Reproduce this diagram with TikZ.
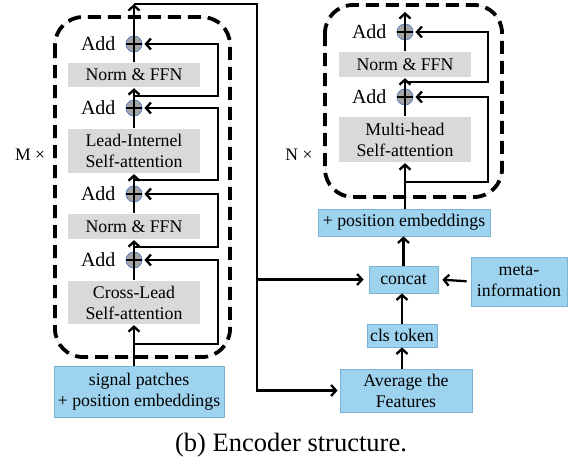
\documentclass[tikz,border=0pt]{standalone}
\usepackage{fontspec}
\setmainfont{Liberation Serif}
\usetikzlibrary{arrows.meta}
\definecolor{boxgray}{RGB}{217,217,217}
\definecolor{boxblue}{RGB}{157,211,238}
\definecolor{blueedge}{RGB}{125,178,212}
\definecolor{circfill}{RGB}{165,165,165}
\definecolor{circedge}{RGB}{90,130,195}
\begin{document}
\begin{tikzpicture}[x=1pt,y=-1pt,
  line width=2.3pt,
  >={Straight Barb[length=5pt,width=11pt]},
  graybox/.style={fill=boxgray, draw=none, minimum width=132pt, inner sep=0pt, align=center, font=\fontsize{17.8}{21}\selectfont},
  bluebox/.style={fill=boxblue, draw=blueedge, line width=0.8pt, inner sep=0pt, align=center, font=\fontsize{17.8}{21}\selectfont},
  addc/.style={circle, fill=circfill, draw=circedge, line width=0.8pt, minimum size=16pt, inner sep=0pt},
  addtxt/.style={anchor=east, inner sep=0pt, font=\fontsize{20}{24}\selectfont},
  dashbox/.style={draw, line width=3.8pt, dash pattern=on 13pt off 7pt, rounded corners=28pt},
  faintbox/.style={draw=gray!35, line width=0.5pt, rounded corners=28pt},
  multlbl/.style={inner sep=0pt, font=\fontsize{17.6}{20}\selectfont},
  skip/.style={->, shorten >=2pt},
  ]
\useasboundingbox (0,0) rectangle (574,458);

% dashed blocks
\draw[faintbox] (55,17) rectangle (230,357);
\draw[dashbox] (55,17) rectangle (230,357);
\draw[faintbox] (325,5) rectangle (502,197);
\draw[dashbox] (325,5) rectangle (502,197);

% left column
\node[graybox, minimum height=24pt] (nf1) at (134,75) {Norm \& FFN};
\node[graybox, minimum height=44pt] (lis) at (134,151) {Lead-Internel\\Self-attention};
\node[graybox, minimum height=25pt] (nf2) at (134,226.5) {Norm \& FFN};
\node[graybox, minimum height=43pt] (cl) at (134,302.5) {Cross-Lead\\Self-attention};
\node[bluebox, minimum width=170pt, minimum height=51pt] (sig) at (139,391.5) {signal patches\\+ position embeddings};

\node[addc] (add1) at (134,44) {};
\node[addc] (add2) at (134,108) {};
\node[addc] (add3) at (134,194) {};
\node[addc] (add4) at (134,260) {};
\foreach \a in {add1,add2,add3,add4}{
  \node[addtxt] at ([xshift=-9pt]\a.west) {Add};
}

\node[multlbl] (mlab) at (30,155) {M ×};

% right column
\node[graybox, minimum height=25pt] (rnf) at (405,64.5) {Norm \& FFN};
\node[graybox, minimum height=45pt] (rmh) at (405,139.5) {Multi-head\\Self-attention};
\node[bluebox, minimum width=172pt, minimum height=27pt] (pos) at (404,222.5) {+ position embeddings};
\node[bluebox, minimum width=69pt, minimum height=27pt] (concat) at (403.5,279.5) {concat};
\node[bluebox, minimum width=96pt, minimum height=49pt] (meta) at (519,281.5) {meta-\\information};
\node[bluebox, minimum width=70pt, minimum height=23pt] (clst) at (402,335.5) {cls token};
\node[bluebox, minimum width=132pt, minimum height=43pt] (avg) at (406,390.5) {Average the\\Features};

\node[addc] (radd1) at (405,32) {};
\node[addc] (radd2) at (405,97) {};
\foreach \a in {radd1,radd2}{
  \node[addtxt] at ([xshift=-9pt]\a.west) {Add};
}
\node[multlbl] (nlab) at (299,155) {N ×};

% coordinates
\coordinate (top) at (134,4);
\coordinate (corner) at (257,4);
\coordinate (b1) at (134,96);
\coordinate (b2) at (134,180);
\coordinate (b3) at (134,247);
\coordinate (b4) at (134,344);
\coordinate (rtop) at (405,12);
\coordinate (rb1) at (405,82);
\coordinate (rb2) at (405,182);

% left main path
\draw[->] (sig.north -| add4) -- (cl.south);
\draw (cl.north) -- (add4.south);
\draw[->] (add4.north) -- (nf2.south);
\draw (nf2.north) -- (add3.south);
\draw[->] (add3.north) -- (lis.south);
\draw (lis.north) -- (add2.south);
\draw[->] (add2.north) -- (nf1.south);
\draw (nf1.north) -- (add1.south);
\draw[->] (add1.north) -- (top);

% left residuals
\draw[skip] (b1) -- ++(84,0) |- (add1.east);
\draw[skip] (b2) -- ++(84,0) |- (add2.east);
\draw[skip] (b3) -- ++(84,0) |- (add3.east);
\draw[skip] (b4) -- ++(84,0) |- (add4.east);

% output of left encoder
\draw[->, shorten >=2pt] (top) -- (corner) |- (avg.west);
\draw[->, shorten >=5pt] (corner |- concat.west) -- (concat.west);

% right lower chain
\draw[->] (avg.north -| clst) -- (clst.south);
\draw[->] (clst.north) -- (concat.south -| clst);
\draw[->] (concat.north) -- (pos.south -| concat);
\draw[->, shorten >=4pt, shorten <=4pt] (meta.west) -- (concat.east);

% right main path
\draw[->] (pos.north -| radd2) -- (rmh.south);
\draw (rmh.north) -- (radd2.south);
\draw[->] (radd2.north) -- (rnf.south);
\draw (rnf.north) -- (radd1.south);
\draw[->] (radd1.north) -- (rtop);

\draw[skip] (rb1) -- ++(83,0) |- (radd1.east);
\draw[skip] (rb2) -- ++(83,0) |- (radd2.east);

% plus signs
\foreach \a in {add1,add2,add3,add4,radd1,radd2}{
  \draw[line width=1.6pt] (\a.north) -- (\a.south);
  \draw[line width=1.6pt] (\a.west) -- (\a.east);
}

% caption
\node[anchor=base, inner sep=0pt, font=\fontsize{26.5}{30}\selectfont] (cap) at (291,451) {(b) Encoder structure.};
\end{tikzpicture}
\end{document}
